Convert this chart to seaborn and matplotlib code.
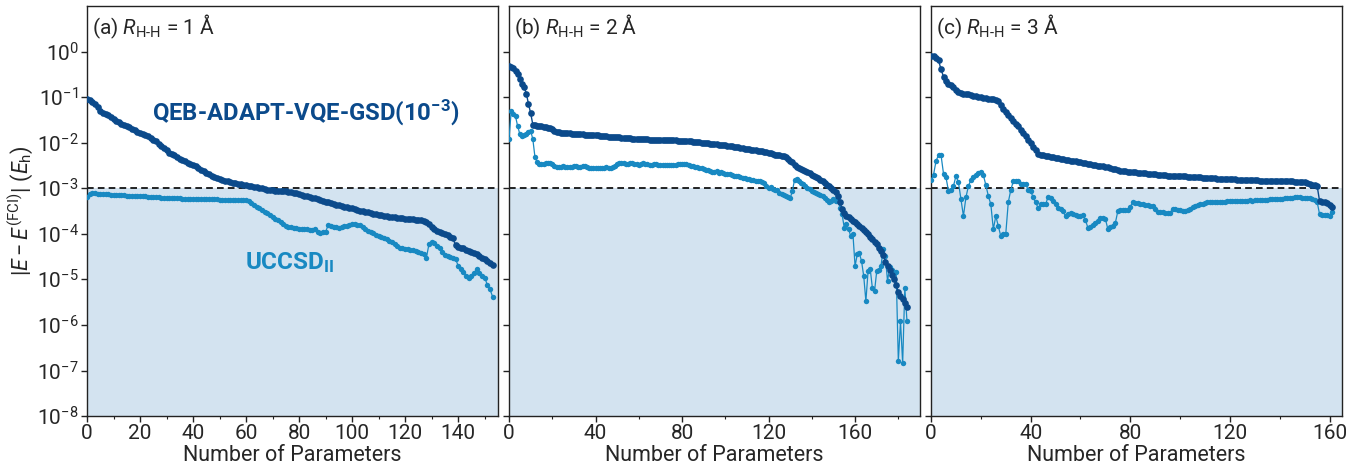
import numpy as np
import pandas as pd
import seaborn as sns
import matplotlib
matplotlib.use("Agg")
import matplotlib.pyplot as plt
from matplotlib.ticker import LogLocator, MultipleLocator, NullLocator

# log10 |E - E(FCI)|, one value per parameter count
qeb_a = [
    -1.03, -1.06, -1.10, -1.15, -1.22, -1.30, -1.34, -1.37, -1.40, -1.44,
    -1.48, -1.52, -1.55, -1.58, -1.61, -1.63, -1.66, -1.70, -1.73, -1.76,
    -1.78, -1.80, -1.83, -1.86, -1.90, -1.94, -1.97, -2.02, -2.07, -2.12,
    -2.17, -2.22, -2.25, -2.28, -2.32, -2.35, -2.38, -2.41, -2.44, -2.46,
    -2.49, -2.52, -2.55, -2.59, -2.63, -2.66, -2.69, -2.72, -2.75, -2.77,
    -2.80, -2.82, -2.84, -2.85, -2.87, -2.88, -2.89, -2.90, -2.91, -2.92,
    -2.93, -2.94, -2.96, -2.97, -2.98, -2.99, -3.00, -3.02, -3.03, -3.04,
    -3.04, -3.05, -3.05, -3.06, -3.07, -3.07, -3.08, -3.09, -3.10, -3.11,
    -3.13, -3.15, -3.17, -3.18, -3.20, -3.21, -3.22, -3.24, -3.25, -3.28,
    -3.30, -3.31, -3.33, -3.34, -3.36, -3.37, -3.39, -3.40, -3.41, -3.43,
    -3.44, -3.46, -3.47, -3.49, -3.50, -3.52, -3.53, -3.55, -3.56, -3.57,
    -3.58, -3.59, -3.60, -3.61, -3.62, -3.63, -3.64, -3.65, -3.65, -3.66,
    -3.67, -3.67, -3.68, -3.68, -3.69, -3.69, -3.70, -3.71, -3.74, -3.79,
    -3.86, -3.90, -3.93, -3.96, -3.98, -4.00, -4.03, -4.06, -4.09, -4.25,
    -4.28, -4.30, -4.32, -4.35, -4.37, -4.39, -4.42, -4.45, -4.48, -4.52,
    -4.56, -4.60, -4.64, -4.68]

ucc_a = [
    -3.20, -3.12, -3.10, -3.11, -3.12, -3.12, -3.13, -3.13, -3.13, -3.14,
    -3.14, -3.14, -3.15, -3.15, -3.15, -3.16, -3.16, -3.16, -3.17, -3.17,
    -3.17, -3.18, -3.18, -3.19, -3.19, -3.20, -3.20, -3.20, -3.21, -3.21,
    -3.21, -3.22, -3.22, -3.22, -3.22, -3.22, -3.23, -3.23, -3.23, -3.23,
    -3.23, -3.23, -3.23, -3.24, -3.24, -3.24, -3.24, -3.24, -3.24, -3.24,
    -3.25, -3.25, -3.25, -3.25, -3.25, -3.25, -3.25, -3.26, -3.26, -3.26,
    -3.26, -3.28, -3.32, -3.36, -3.40, -3.43, -3.47, -3.51, -3.55, -3.59,
    -3.64, -3.67, -3.70, -3.74, -3.78, -3.82, -3.84, -3.86, -3.87, -3.88,
    -3.89, -3.89, -3.90, -3.90, -3.91, -3.92, -3.90, -3.96, -3.98, -3.96,
    -3.95, -3.81, -3.83, -3.85, -3.86, -3.87, -3.85, -3.83, -3.82, -3.80,
    -3.79, -3.79, -3.80, -3.81, -3.84, -3.89, -3.94, -3.97, -3.99, -4.02,
    -4.05, -4.07, -4.10, -4.12, -4.15, -4.18, -4.22, -4.26, -4.30, -4.31,
    -4.33, -4.34, -4.35, -4.36, -4.37, -4.39, -4.42, -4.45, -4.53, -4.22,
    -4.19, -4.20, -4.26, -4.32, -4.40, -4.47, -4.49, -4.50, -4.52, -4.55,
    -4.70, -4.78, -4.84, -4.92, -4.97, -4.92, -4.85, -4.78, -4.86, -4.92,
    -4.96, -5.12, -5.22, -5.38]

qeb_b = [
    -0.31, -0.33, -0.37, -0.43, -0.50, -0.60, -0.70, -0.78, -0.92, -1.15,
    -1.35, -1.60, -1.62, -1.63, -1.64, -1.64, -1.65, -1.66, -1.67, -1.68,
    -1.69, -1.75, -1.77, -1.77, -1.78, -1.78, -1.78, -1.79, -1.79, -1.80,
    -1.80, -1.80, -1.81, -1.81, -1.81, -1.82, -1.82, -1.82, -1.83, -1.83,
    -1.84, -1.84, -1.85, -1.85, -1.86, -1.86, -1.87, -1.87, -1.87, -1.88,
    -1.88, -1.88, -1.89, -1.89, -1.90, -1.90, -1.90, -1.91, -1.91, -1.91,
    -1.91, -1.92, -1.92, -1.92, -1.92, -1.93, -1.93, -1.93, -1.93, -1.94,
    -1.94, -1.94, -1.94, -1.94, -1.95, -1.95, -1.95, -1.95, -1.96, -1.96,
    -1.96, -1.96, -1.97, -1.97, -1.97, -1.98, -1.98, -1.99, -1.99, -2.00,
    -2.00, -2.01, -2.01, -2.02, -2.02, -2.03, -2.03, -2.04, -2.05, -2.05,
    -2.06, -2.07, -2.07, -2.08, -2.09, -2.09, -2.10, -2.11, -2.12, -2.13,
    -2.13, -2.14, -2.15, -2.16, -2.17, -2.18, -2.19, -2.19, -2.20, -2.21,
    -2.22, -2.23, -2.25, -2.26, -2.27, -2.28, -2.29, -2.30, -2.32, -2.35,
    -2.39, -2.43, -2.48, -2.53, -2.56, -2.58, -2.60, -2.62, -2.65, -2.67,
    -2.70, -2.72, -2.75, -2.78, -2.81, -2.85, -2.88, -2.92, -2.96, -2.99,
    -3.03, -3.09, -3.17, -3.30, -3.45, -3.54, -3.60, -3.64, -3.68, -3.72,
    -3.75, -3.79, -3.83, -3.87, -3.92, -3.97, -4.01, -4.06, -4.11, -4.18,
    -4.23, -4.30, -4.38, -4.46, -4.62, -4.70, -4.80, -4.90, -5.00, -5.13,
    -5.28, -5.36, -5.44, -5.52, -5.60]

ucc_b = [
    -1.91, -1.31, -1.36, -1.42, -1.64, -1.81, -1.85, -1.83, -1.80, -1.77,
    -1.74, -1.92, -2.32, -2.42, -2.46, -2.47, -2.46, -2.45, -2.44, -2.44,
    -2.46, -2.50, -2.53, -2.53, -2.53, -2.52, -2.53, -2.53, -2.54, -2.53,
    -2.52, -2.52, -2.53, -2.53, -2.52, -2.52, -2.53, -2.55, -2.56, -2.56,
    -2.55, -2.55, -2.56, -2.55, -2.55, -2.54, -2.56, -2.55, -2.53, -2.50,
    -2.46, -2.44, -2.44, -2.45, -2.46, -2.46, -2.45, -2.45, -2.46, -2.47,
    -2.48, -2.46, -2.45, -2.46, -2.47, -2.48, -2.48, -2.47, -2.47, -2.48,
    -2.48, -2.48, -2.49, -2.48, -2.48, -2.48, -2.48, -2.48, -2.47, -2.47,
    -2.47, -2.46, -2.46, -2.48, -2.50, -2.51, -2.53, -2.54, -2.55, -2.56,
    -2.57, -2.59, -2.60, -2.63, -2.64, -2.65, -2.63, -2.66, -2.64, -2.67,
    -2.68, -2.69, -2.68, -2.70, -2.72, -2.73, -2.74, -2.75, -2.77, -2.78,
    -2.79, -2.80, -2.81, -2.82, -2.83, -2.84, -2.85, -2.87, -2.88, -2.94,
    -3.00, -2.98, -3.02, -3.04, -3.03, -3.10, -3.12, -3.15, -3.17, -3.20,
    -3.22, -3.06, -2.82, -2.80, -2.84, -2.88, -2.90, -2.94, -2.99, -3.02,
    -3.05, -3.08, -3.10, -3.13, -3.15, -3.17, -3.22, -3.26, -3.29, -3.27,
    -3.24, -3.28, -3.20, -3.43, -3.57, -3.87, -3.78, -3.90, -4.05, -4.00,
    -4.71, -4.45, -4.43, -4.60, -4.93, -5.48, -4.82, -4.77, -5.19, -5.26,
    -4.82, -4.80, -4.70, -4.34, -4.48, -5.04, -4.73, -4.80, -4.84, -4.84,
    -6.80, -5.92, -6.84, -5.19, -5.92]

qeb_c = [
    -0.09, -0.10, -0.14, -0.19, -0.39, -0.55, -0.65, -0.70, -0.74, -0.78,
    -0.85, -0.88, -0.90, -0.92, -0.93, -0.94, -0.96, -0.97, -0.98, -0.99,
    -1.00, -1.01, -1.02, -1.03, -1.04, -1.05, -1.07, -1.09, -1.17, -1.25,
    -1.32, -1.39, -1.45, -1.52, -1.58, -1.64, -1.71, -1.78, -1.85, -1.93,
    -2.01, -2.10, -2.17, -2.25, -2.27, -2.28, -2.29, -2.30, -2.31, -2.32,
    -2.33, -2.34, -2.35, -2.36, -2.37, -2.38, -2.39, -2.40, -2.41, -2.42,
    -2.43, -2.44, -2.45, -2.46, -2.47, -2.48, -2.49, -2.50, -2.51, -2.52,
    -2.53, -2.54, -2.55, -2.57, -2.58, -2.60, -2.61, -2.62, -2.63, -2.64,
    -2.64, -2.65, -2.65, -2.66, -2.66, -2.67, -2.67, -2.68, -2.68, -2.69,
    -2.69, -2.70, -2.70, -2.71, -2.71, -2.72, -2.72, -2.72, -2.73, -2.73,
    -2.74, -2.74, -2.74, -2.75, -2.75, -2.75, -2.76, -2.76, -2.76, -2.77,
    -2.77, -2.77, -2.78, -2.78, -2.78, -2.79, -2.79, -2.79, -2.79, -2.80,
    -2.80, -2.80, -2.80, -2.81, -2.81, -2.81, -2.81, -2.82, -2.82, -2.82,
    -2.82, -2.82, -2.83, -2.83, -2.83, -2.83, -2.83, -2.84, -2.84, -2.84,
    -2.84, -2.84, -2.85, -2.85, -2.85, -2.85, -2.86, -2.86, -2.86, -2.86,
    -2.87, -2.89, -2.91, -2.92, -2.93, -2.94, -3.28, -3.30, -3.31, -3.33,
    -3.36, -3.40]

ucc_c = [
    -2.82, -2.70, -2.40, -2.27, -2.27, -2.68, -2.76, -3.06, -3.04, -2.95,
    -2.73, -2.87, -3.24, -3.61, -3.20, -2.95, -2.82, -2.76, -2.71, -2.67,
    -2.65, -2.71, -2.93, -3.17, -3.35, -3.90, -3.61, -3.83, -4.05, -4.00,
    -4.00, -3.31, -3.04, -2.85, -2.83, -2.83, -2.91, -2.90, -2.90, -3.04,
    -3.06, -3.20, -3.31, -3.43, -3.35, -3.35, -3.35, -3.19, -3.21, -3.28,
    -3.35, -3.43, -3.45, -3.50, -3.61, -3.57, -3.54, -3.56, -3.58, -3.60,
    -3.61, -3.59, -3.70, -3.87, -3.84, -3.81, -3.76, -3.72, -3.65, -3.66,
    -3.67, -3.90, -3.86, -3.83, -3.76, -3.50, -3.48, -3.47, -3.47, -3.47,
    -3.40, -3.31, -3.32, -3.33, -3.34, -3.35, -3.36, -3.37, -3.38, -3.39,
    -3.45, -3.52, -3.53, -3.53, -3.54, -3.54, -3.54, -3.45, -3.46, -3.47,
    -3.48, -3.49, -3.50, -3.48, -3.45, -3.42, -3.39, -3.37, -3.35, -3.34,
    -3.33, -3.31, -3.31, -3.30, -3.30, -3.30, -3.29, -3.29, -3.29, -3.28,
    -3.28, -3.28, -3.28, -3.27, -3.27, -3.27, -3.27, -3.27, -3.26, -3.27,
    -3.26, -3.26, -3.26, -3.25, -3.25, -3.25, -3.24, -3.24, -3.24, -3.23,
    -3.23, -3.23, -3.22, -3.22, -3.21, -3.21, -3.20, -3.20, -3.20, -3.21,
    -3.21, -3.22, -3.22, -3.23, -3.25, -3.29, -3.57, -3.58, -3.58, -3.59,
    -3.60, -3.52]

panel_labels = ["(a)", "(b)", "(c)"]
distances = ["1", "2", "3"]
x_max = [155, 190, 165]
x_major = [20, 40, 40]

dark = "#0b4a8b"
light = "#1889c2"
shade = "#d3e3f0"

sns.set_theme(style="ticks")
plt.rcParams["font.family"] = ["Roboto", "DejaVu Sans"]
plt.rcParams["mathtext.fontset"] = "custom"
plt.rcParams["mathtext.rm"] = "Roboto"
plt.rcParams["mathtext.it"] = "Roboto:italic"
plt.rcParams["mathtext.bf"] = "Roboto:bold"
plt.rcParams["axes.edgecolor"] = "#222222"
plt.rcParams["axes.linewidth"] = 1.0

fig, axes = plt.subplots(1, 3, figsize=(13.49, 4.68), dpi=100, sharey=True)
plt.subplots_adjust(left=0.0645, right=0.9948, bottom=0.111, top=0.987, wspace=0.027)

series = [(qeb_a, ucc_a), (qeb_b, ucc_b), (qeb_c, ucc_c)]

for i, ax in enumerate(axes):
    q, u = series[i]
    df_q = pd.DataFrame({"n": np.arange(len(q)), "err": 10.0 ** np.array(q)})
    df_u = pd.DataFrame({"n": np.arange(len(u)), "err": 10.0 ** np.array(u)})

    ax.set_yscale("log")
    ax.set_ylim(1e-8, 10)
    ax.set_xlim(0, x_max[i])
    ax.axhspan(1e-8, 1e-3, color=shade, zorder=0, lw=0)
    ax.axhline(1e-3, color="black", ls="--", lw=1.2, dashes=(4, 2.5), zorder=1)

    sns.lineplot(data=df_u, x="n", y="err", ax=ax, color=light, lw=0.9,
                 marker="o", markersize=3.9, markeredgewidth=0, zorder=3)
    sns.lineplot(data=df_q, x="n", y="err", ax=ax, color=dark, lw=1.0,
                 marker="o", markersize=4.8, markeredgewidth=0, zorder=4)

    ax.set_xlabel("Number of Parameters", fontsize=15.5, labelpad=1)
    ax.set_ylabel("")
    ax.xaxis.set_major_locator(MultipleLocator(x_major[i]))
    ax.xaxis.set_minor_locator(MultipleLocator(x_major[i] / 2))
    ax.yaxis.set_major_locator(LogLocator(base=10, numticks=20))
    ax.yaxis.set_minor_locator(NullLocator())
    ax.tick_params(axis="both", which="major", direction="out", length=4,
                   width=1, labelsize=15, pad=2, color="#222222")
    ax.tick_params(axis="x", which="minor", direction="out", length=2.5,
                   width=0.8, color="#222222")
    ax.set_yticks([10.0 ** k for k in range(-8, 1)])
    for s in ax.spines.values():
        s.set_visible(True)

    ax.text(0.012, 0.985,
            panel_labels[i] + r" $R_{\mathrm{H}\text{-}\mathrm{H}}$ = " + distances[i] + " Å",
            transform=ax.transAxes, ha="left", va="top", fontsize=15)

axes[0].set_ylabel(r"$|E - E^{\mathrm{(FCI)}}|\ (E_{\mathrm{h}})$", fontsize=15.5, labelpad=1)
axes[0].text(24.5, 10 ** -1.33, r"QEB-ADAPT-VQE-GSD(10$^{\mathbf{-3}}$)",
             color=dark, fontsize=17.2, fontweight="bold", ha="left", va="center")
axes[0].text(59.5, 10 ** -4.62, r"UCCSD$_{\mathbf{II}}$",
             color=light, fontsize=17.5, fontweight="bold", ha="left", va="center")

fig.savefig("out.png", dpi=100)
